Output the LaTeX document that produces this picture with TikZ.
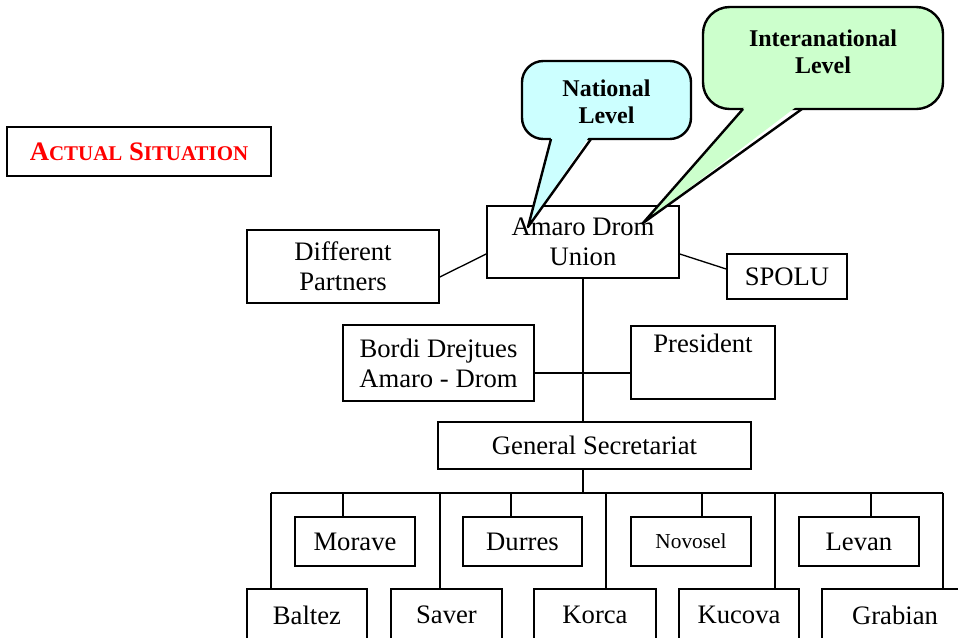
\documentclass[tikz,border=0pt]{standalone}
\usepackage{fontspec}
\setmainfont{Liberation Serif}
\definecolor{myRed}{RGB}{255,0,0}
\definecolor{myCyan}{RGB}{204,255,255}
\definecolor{myGreen}{RGB}{204,255,204}
\newcommand{\smallcap}[1]{{\fontsize{15.7}{18}\selectfont #1}}

\begin{document}
\begin{tikzpicture}[%
    x=0.75pt, y=-0.75pt,
    every node/.style={
        font=\fontsize{20}{22.5}\selectfont,
        align=center,
        inner sep=0pt,
    },
    box/.style 2 args={
        draw, line width=1.2pt,
        minimum width=#1*0.75pt,
        minimum height=#2*0.75pt,
    },
    link/.style={line width=1pt},
    callout/.style={draw, line width=1.8pt, line join=round},
    bubble/.style={font=\fontsize{18}{20.5}\selectfont\bfseries},
]
\useasboundingbox (0,0) rectangle (958,637);
\clip (0,0) rectangle (958,637);

% title box
\node[box={264}{49}, text=myRed, font=\fontsize{20}{22.5}\selectfont\bfseries] (actual)
    at (139,151.5) {A\smallcap{CTUAL} S\smallcap{ITUATION}};

% top level
\node[box={192}{72}] (amaro) at (583,242) {Amaro Drom\\Union};
\node[box={192}{73}] (partners) at (343,266.5) {Different\\Partners};
\node[box={120}{45}] (spolu) at (787,276.5) {SPOLU};

% board and president
\node[box={191}{76}] (bordi) at (438.5,363) {Bordi Drejtues\\Amaro - Drom};
\node[box={144}{73}] (president) at (703,362.5) {President\\\strut};

% secretariat
\node[box={313}{47}] (gensec) at (594.5,445.5) {General Secretariat};

% branches, upper row
\node[box={120}{49}] (morave) at (355,541.5) {Morave};
\node[box={119}{49}] (durres) at (522.5,541.5) {Durres};
\node[box={120}{49}, font=\fontsize{16}{18}\selectfont] (novosel) at (691,541.5) {Novosel};
\node[box={120}{49}] (levan) at (859,541.5) {Levan};

% branches, lower row
\node[box={120}{52}] (baltez) at (307,615) {Baltez};
\node[box={111}{52}] (saver) at (446.5,615) {Saver};
\node[box={122}{52}] (korca) at (595,615) {Korca};
\node[box={120}{52}] (kucova) at (739,615) {Kucova};
\node[box={146}{52}] (grabian) at (895,615) {Grabian};

% connectors
\draw[link] (partners.east |- 0,277) -- (amaro.west |- 0,254);
\draw[link] (amaro.east |- 0,254) -- (spolu.west |- 0,269);
\draw[link] (amaro.south) -- (amaro.south |- gensec.north);
\draw[link] (bordi.east |- 0,373) -- (president.west |- 0,373);

% bus to the branches
\coordinate (busL) at (271,493);
\coordinate (busR) at (943,493);
\draw[link] (amaro.south |- gensec.south) -- (amaro.south |- busL);
\draw[link] (busL) -- (busR);
\draw[link] (busL) -- (busL |- baltez.north);
\draw[link] (busR) -- (busR |- grabian.north);
\foreach \x/\n in {440/saver,606/korca,775/kucova}{
    \draw[link] (\x,493) -- (\x,0 |- \n.north);
}
\foreach \x/\n in {343/morave,511/durres,702/novosel,871/levan}{
    \draw[link] (\x,493) -- (\x,0 |- \n.north);
}

% callout, national
\draw[callout, fill=myCyan, rounded corners=16] (522,61) rectangle (691,139);
\fill[myCyan] (551.8,135) -- (528,227) -- (590.2,135) -- cycle;
\draw[callout] (551,139) -- (528,227) -- (591,139);
\node[bubble] (national) at (606.5,102) {National\\Level};

% callout, international
\draw[callout, fill=myGreen, rounded corners=20] (703,7) rectangle (943,109);
\fill[myGreen] (746.5,105) -- (643,223) -- (798.6,105) -- cycle;
\draw[callout] (743,109) -- (643,223) -- (802,109);
\node[bubble] (international) at (823,52) {Interanational\\Level};

\end{tikzpicture}
\end{document}
